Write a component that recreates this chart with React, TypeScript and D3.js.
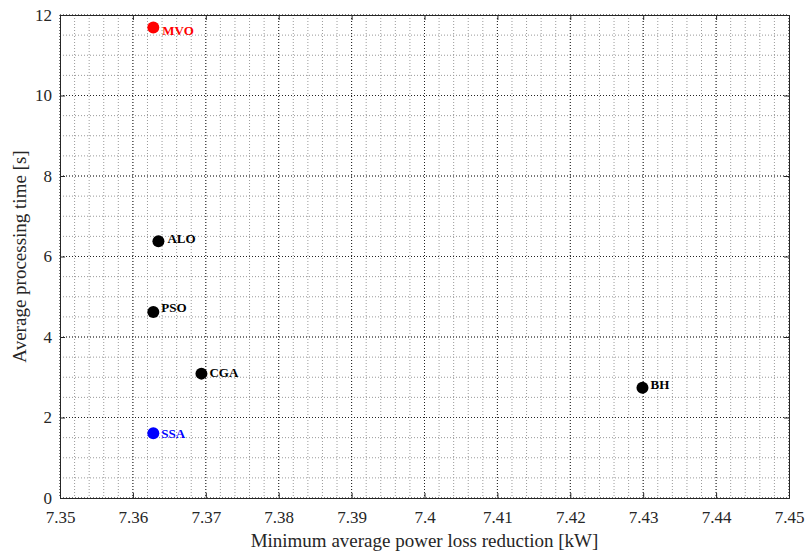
import React, { useEffect, useRef } from "react"
import * as d3 from "d3"

// data
const algorithms = ["MVO", "ALO", "PSO", "CGA", "BH", "SSA"]
const powerLoss = [7.3628, 7.3635, 7.3628, 7.3694, 7.4299, 7.3628]
const procTime = [11.69, 6.38, 4.62, 3.09, 2.74, 1.61]
const pointColors = ["#ff0000", "#000000", "#000000", "#000000", "#000000", "#0000ff"]
const xTicks = [7.35, 7.36, 7.37, 7.38, 7.39, 7.4, 7.41, 7.42, 7.43, 7.44, 7.45]
const yTicks = [0, 2, 4, 6, 8, 10, 12]

// label nudges (px) relative to each marker
const labelDx = [9, 9, 8, 8, 8, 8]
const labelDy = [8, 2, 0, 3, 1, 5]

const W = 805
const H = 553
const margin = { top: 15, right: 16, bottom: 55, left: 60 }
const serif = "'Liberation Serif', 'Times New Roman', serif"

export default function App() {
    const ref = useRef<SVGSVGElement>(null)

    useEffect(() => {
        const svg = d3.select(ref.current)
        svg.selectAll("*").remove()
        const width = W - margin.left - margin.right
        const height = H - margin.top - margin.bottom

        const x = d3.scaleLinear().domain([7.35, 7.45]).range([0, width])
        const y = d3.scaleLinear().domain([0, 12]).range([height, 0])

        const g = svg.append("g")
            .attr("transform", `translate(${margin.left},${margin.top})`)

        g.append("rect").attr("width", width).attr("height", height).attr("fill", "#fff")

        // minor grid
        const xMinor = d3.range(0, 51).map(i => 7.35 + i * 0.002)
        const yMinor = d3.range(0, 25).map(i => i * 0.5)
        g.append("g").selectAll("line").data(xMinor).join("line")
            .attr("x1", d => x(d)).attr("x2", d => x(d))
            .attr("y1", 0).attr("y2", height)
            .attr("stroke", "#9a9a9a").attr("stroke-width", 1)
            .attr("stroke-dasharray", "1,2")
        g.append("g").selectAll("line").data(yMinor).join("line")
            .attr("y1", d => y(d)).attr("y2", d => y(d))
            .attr("x1", 0).attr("x2", width)
            .attr("stroke", "#9a9a9a").attr("stroke-width", 1)
            .attr("stroke-dasharray", "1,2")

        // major grid
        g.append("g").selectAll("line").data(xTicks).join("line")
            .attr("x1", d => x(d)).attr("x2", d => x(d))
            .attr("y1", 0).attr("y2", height)
            .attr("stroke", "#222").attr("stroke-width", 1)
            .attr("stroke-dasharray", "1,2")
        g.append("g").selectAll("line").data(yTicks).join("line")
            .attr("y1", d => y(d)).attr("y2", d => y(d))
            .attr("x1", 0).attr("x2", width)
            .attr("stroke", "#222").attr("stroke-width", 1)
            .attr("stroke-dasharray", "1,2")

        // axes with inward ticks
        const fmtX = (d: any) => String(+d.toFixed(2))
        const xAxis = g.append("g").attr("transform", `translate(0,${height})`)
            .call(d3.axisBottom(x).tickValues(xTicks).tickSize(-5).tickPadding(10).tickFormat(fmtX))
        const yAxis = g.append("g")
            .call(d3.axisLeft(y).tickValues(yTicks).tickSize(-5).tickPadding(8).tickFormat(d3.format("d")))
        g.append("g").call(d3.axisTop(x).tickValues(xTicks).tickSize(-5).tickFormat(() => ""))
        g.append("g").attr("transform", `translate(${width},0)`)
            .call(d3.axisRight(y).tickValues(yTicks).tickSize(-5).tickFormat(() => ""))

        g.selectAll(".domain").attr("stroke", "#262626")
        g.selectAll(".tick line").attr("stroke", "#262626")
        xAxis.attr("font-family", serif).attr("font-size", 17)
        yAxis.attr("font-family", serif).attr("font-size", 17)
        xAxis.selectAll("text")
            .style("font-family", serif).style("font-size", "17px")
            .attr("fill", "#262626").attr("dy", "0.9em")
        yAxis.selectAll("text")
            .style("font-family", serif).style("font-size", "17px")
            .attr("fill", "#262626")

        // points
        const idx = d3.range(algorithms.length)
        g.append("g").selectAll("circle").data(idx).join("circle")
            .attr("cx", i => x(powerLoss[i]))
            .attr("cy", i => y(procTime[i]))
            .attr("r", 6)
            .attr("fill", i => pointColors[i])

        g.append("g").selectAll("text").data(idx).join("text")
            .attr("x", i => x(powerLoss[i]) + labelDx[i])
            .attr("y", i => y(procTime[i]) + labelDy[i])
            .style("font-family", serif)
            .attr("font-weight", "bold")
            .attr("font-size", 13)
            .attr("fill", i => pointColors[i])
            .text(i => algorithms[i])

        // axis titles
        svg.append("text")
            .attr("x", margin.left + width / 2)
            .attr("y", 547)
            .attr("text-anchor", "middle")
            .style("font-family", serif)
            .attr("font-size", 19)
            .attr("fill", "#262626")
            .text("Minimum average power loss reduction [kW]")
        svg.append("text")
            .attr("transform", `translate(26,${margin.top + height / 2}) rotate(-90)`)
            .attr("text-anchor", "middle")
            .style("font-family", serif)
            .attr("font-size", 19)
            .attr("fill", "#262626")
            .text("Average processing time [s]")
    }, [])

    return (
        <div style={{ position: "absolute", left: 0, top: 0 }}>
            <svg ref={ref} width={W} height={H} style={{ display: "block", background: "#fff" }}></svg>
        </div>
    )
}
